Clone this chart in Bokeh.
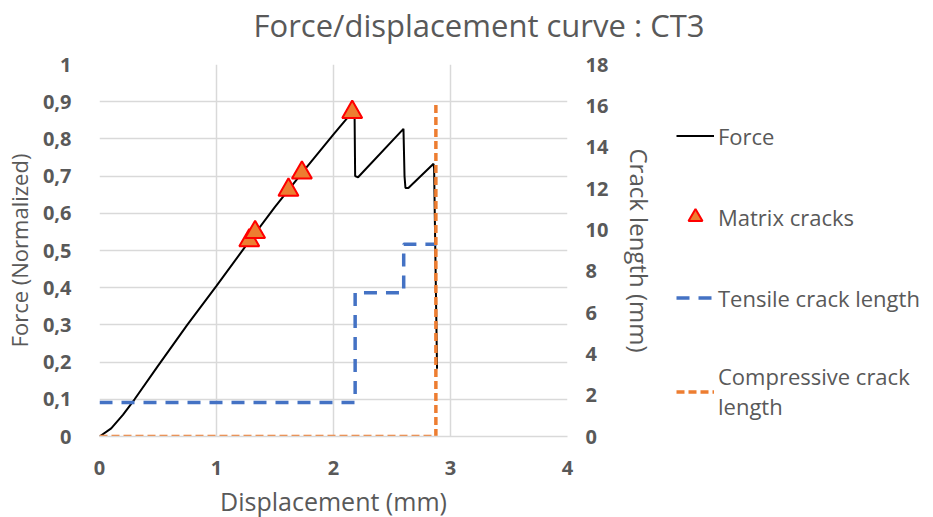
from bokeh.plotting import figure
from bokeh.layouts import row, column
from bokeh.models import (Range1d, LinearAxis, FixedTicker, CustomJSTickFormatter,
                          Legend, LegendItem)
from bokeh.embed import file_html
from bokeh.resources import INLINE

# ---- data ----
force_x = [0, 0.1, 0.2, 0.3, 0.5, 0.75, 1.0, 1.28, 1.5, 1.75, 2.0, 2.16, 2.18, 2.185,
           2.21, 2.598, 2.607, 2.615, 2.64, 2.855, 2.86, 2.885]
force_y = [0, 0.022, 0.058, 0.1, 0.19, 0.3, 0.405, 0.525, 0.617, 0.716, 0.812, 0.872,
           0.87, 0.70, 0.697, 0.827, 0.70, 0.668, 0.668, 0.733, 0.72, 0.182]

matrix_x = [1.28, 1.33, 1.615, 1.73, 2.16]
matrix_y = [0.527, 0.549, 0.663, 0.709, 0.872]

tensile_x = [0, 2.185, 2.185, 2.6, 2.6, 2.88]
tensile_y = [1.65, 1.65, 6.95, 6.95, 9.3, 9.3]

comp_x = [0, 2.875, 2.875]
comp_y = [0, 0, 16.2]

x_ticks = [0, 1, 2, 3, 4]
y_ticks = [0, 0.1, 0.2, 0.3, 0.4, 0.5, 0.6, 0.7, 0.8, 0.9, 1.0]
y2_ticks = [0, 2, 4, 6, 8, 10, 12, 14, 16, 18]

series_names = ["Force", "Matrix cracks", "Tensile crack length",
                "Compressive crack\nlength"]
title_text = "Force/displacement curve : CT3"

TXT = "#595959"
GRID = "#d9d9d9"
FONT = "Open Sans"
C_FORCE = "black"
C_TRI_FILL = "#ED7D31"
C_TRI_LINE = "#FF0000"
C_TENS = "#4472C4"
C_COMP = "#ED7D31"


def bare(fig):
    fig.outline_line_color = None
    fig.background_fill_color = "white"
    fig.border_fill_color = "white"


# ---- title strip ----
tf = figure(width=917, height=52, output_backend="svg", toolbar_location=None,
            x_axis_type=None, y_axis_type=None, min_border_left=0, min_border_right=0,
            min_border_bottom=0, min_border_top=50)
bare(tf)
tf.grid.visible = False
tf.title.text = title_text
tf.title.align = "left"
tf.title.offset = 253
tf.title.text_font = FONT
tf.title.text_font_size = "31px"
tf.title.text_font_style = "normal"
tf.title.text_color = TXT
tf.title.standoff = 13

# ---- main chart ----
p = figure(frame_width=468, frame_height=372, output_backend="svg", toolbar_location=None,
           x_range=Range1d(0, 4), y_range=Range1d(0, 1),
           min_border_left=96, min_border_top=12, min_border_bottom=65,
           min_border_right=85)
bare(p)
p.title.visible = False
p.extra_y_ranges = {"crack": Range1d(0, 18)}

p.xgrid.ticker = FixedTicker(ticks=x_ticks)
p.ygrid.ticker = FixedTicker(ticks=y_ticks)
p.xgrid.grid_line_color = GRID
p.ygrid.grid_line_color = GRID
p.xgrid.grid_line_width = 1.5
p.ygrid.grid_line_width = 1.5

def style_axis(ax, label_size="22px"):
    ax.major_tick_line_color = None
    ax.minor_tick_line_color = None
    ax.major_label_text_font = FONT
    ax.major_label_text_font_size = "20px"
    ax.major_label_text_font_style = "bold"
    ax.major_label_text_color = TXT
    ax.axis_label_text_font = FONT
    ax.axis_label_text_font_size = label_size
    ax.axis_label_text_font_style = "normal"
    ax.axis_label_text_color = TXT

xa = p.xaxis[0]
style_axis(xa, "25px")
xa.ticker = FixedTicker(ticks=x_ticks)
xa.axis_label = "Displacement (mm)"
xa.axis_line_color = GRID
xa.axis_line_width = 1.5
xa.major_label_standoff = 18
xa.axis_label_standoff = 6

ya = p.yaxis[0]
style_axis(ya, "22px")
ya.ticker = FixedTicker(ticks=y_ticks)
ya.formatter = CustomJSTickFormatter(code="""
    var v = Math.round(tick*10)/10;
    return v.toString().replace('.', ',');
""")
ya.axis_label = "Force (Normalized)"
ya.axis_line_color = None
ya.major_label_standoff = 22
ya.axis_label_standoff = 6

ra = LinearAxis(y_range_name="crack", ticker=FixedTicker(ticks=y2_ticks),
                axis_label="Crack length (mm)")
style_axis(ra, "24px")
ra.axis_line_color = None
ra.major_label_standoff = 12
ra.axis_label_standoff = 12
p.add_layout(ra, "right")

force_style = dict(line_color=C_FORCE, line_width=2)
matrix_style = dict(marker="triangle", size=20, fill_color=C_TRI_FILL,
                    line_color=C_TRI_LINE, line_width=2)
tens_style = dict(line_color=C_TENS, line_width=3.5, line_dash="13 9")
comp_style = dict(line_color=C_COMP, line_width=3.5, line_dash="8 4")

p.line(force_x, force_y, **force_style)
p.scatter(matrix_x, matrix_y, **matrix_style)
p.line(tensile_x, tensile_y, y_range_name="crack", **tens_style)
p.line(comp_x, comp_y, y_range_name="crack", **comp_style)

# ---- legend strip (same series, ranges set so only the key shows) ----
lg = figure(width=268, height=465, output_backend="svg", toolbar_location=None,
            x_range=Range1d(100, 101), y_range=Range1d(100, 101),
            x_axis_type=None, y_axis_type=None, min_border=0)
bare(lg)
lg.grid.visible = False
lg.title.visible = False
lg.extra_y_ranges = {"crack": Range1d(100, 101)}
k_force = lg.line(force_x, force_y, **force_style)
k_matrix = lg.scatter(matrix_x, matrix_y, **matrix_style)
k_tens = lg.line(tensile_x, tensile_y, y_range_name="crack", **tens_style)
k_comp = lg.line(comp_x, comp_y, y_range_name="crack", **comp_style)

legend = Legend(items=[
    LegendItem(label=series_names[0], renderers=[k_force]),
    LegendItem(label=series_names[1], renderers=[k_matrix]),
    LegendItem(label=series_names[2], renderers=[k_tens]),
    LegendItem(label=series_names[3], renderers=[k_comp]),
], location="top_left")
legend.title = " "
legend.title_text_font_size = "20px"
legend.title_standoff = 14
legend.label_text_font = FONT
legend.label_text_font_size = "22px"
legend.label_text_line_height = 1.45
legend.label_text_color = TXT
legend.glyph_width = 38
legend.glyph_height = 35
legend.label_standoff = 4
legend.spacing = 46
legend.padding = 0
legend.margin = 17
legend.border_line_color = None
legend.background_fill_alpha = 0
lg.add_layout(legend, "center")

layout = column(tf, row(p, lg, spacing=0), spacing=0)
open("out.html", "w").write(file_html(layout, INLINE))
